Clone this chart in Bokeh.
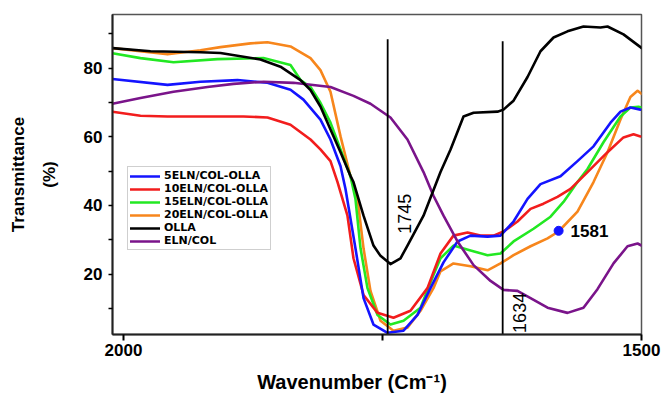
import math
from bokeh.plotting import figure
from bokeh.models import Range1d, FixedTicker, Legend, LegendItem, Label
from bokeh.embed import file_html
from bokeh.resources import INLINE

# ---------------- data ----------------
olla_x = [2010.6, 1973.9, 1925.7, 1906.4, 1867.8, 1848.5, 1829.1, 1819.5, 1809.9, 1800.2,
          1790.5, 1780.9, 1778.0, 1768.3, 1758.7, 1751.9, 1742.3, 1732.6, 1725.9, 1710.4,
          1694.0, 1684.3, 1671.8, 1662.1, 1639.0, 1633.2, 1623.5, 1610.0, 1597.5, 1584.9,
          1571.4, 1556.0, 1539.6, 1532.8, 1517.4, 1501.0, 1500.0]
olla_y = [85.8, 84.9, 84.6, 84.4, 82.5, 80.4, 76.5, 73.6, 68.8, 62.1,
          55.5, 48.6, 46.8, 37.0, 28.3, 25.3, 22.9, 24.6, 28.3, 37.0,
          49.7, 56.3, 65.9, 67.0, 67.3, 67.9, 70.5, 77.4, 84.9, 88.9,
          90.7, 92.1, 91.8, 92.1, 89.8, 86.1, 85.8]

s20_x = [2010.6, 1957.5, 1925.7, 1906.4, 1877.4, 1861.0, 1838.8, 1819.5, 1809.9, 1800.2,
         1790.5, 1780.9, 1774.1, 1768.3, 1761.6, 1751.9, 1739.4, 1725.9, 1713.3, 1700.8,
         1694.0, 1681.5, 1665.0, 1648.6, 1636.1, 1623.5, 1607.1, 1590.7, 1580.1, 1561.8,
         1546.3, 1532.8, 1520.3, 1510.7, 1503.8, 1500.0]
s20_y = [85.8, 84.0, 85.2, 86.1, 87.2, 87.5, 86.3, 82.9, 79.4, 73.1,
         60.1, 48.5, 41.9, 27.5, 15.1, 6.4, 3.5, 4.4, 9.3, 15.9,
         20.8, 23.1, 22.3, 21.1, 23.1, 25.5, 28.1, 30.4, 32.4, 38.2,
         46.8, 55.5, 65.0, 71.6, 73.4, 72.5]

s15_x = [2010.6, 1983.6, 1951.7, 1909.3, 1864.9, 1838.8, 1829.1, 1819.5, 1809.9, 1800.2,
         1790.5, 1780.9, 1776.1, 1771.2, 1764.5, 1754.8, 1742.3, 1729.7, 1713.3, 1700.8,
         1694.0, 1681.5, 1665.0, 1648.6, 1636.1, 1623.5, 1604.2, 1587.8, 1575.3, 1561.8,
         1552.1, 1536.7, 1520.3, 1510.7, 1502.9, 1500.0]
s15_y = [84.3, 82.9, 81.7, 82.6, 82.9, 80.9, 76.5, 74.5, 69.9, 64.1,
         56.3, 48.5, 41.9, 27.5, 15.9, 8.1, 5.3, 6.4, 10.2, 19.7,
         24.6, 28.3, 26.9, 25.5, 26.0, 29.5, 33.2, 36.7, 41.0, 46.8,
         50.6, 58.4, 65.9, 68.5, 68.7, 68.5]

s5_x = [2010.6, 1957.5, 1925.7, 1890.0, 1861.0, 1838.8, 1826.3, 1809.9, 1800.2, 1790.5,
        1785.7, 1776.1, 1768.3, 1758.7, 1745.2, 1729.7, 1716.2, 1703.7, 1691.1, 1677.6,
        1665.0, 1648.6, 1636.1, 1623.5, 1610.0, 1597.5, 1578.2, 1561.8, 1546.3, 1529.9,
        1520.3, 1510.7, 1501.0]
s5_y = [76.8, 75.1, 76.0, 76.5, 75.7, 73.7, 70.8, 65.0, 59.2, 51.4,
        44.8, 27.5, 13.0, 5.3, 2.9, 3.5, 8.1, 15.9, 23.4, 29.5,
        31.2, 30.9, 31.2, 35.3, 41.9, 46.2, 48.5, 52.9, 57.2, 64.1,
        67.3, 68.5, 67.9]

s10_x = [2010.6, 1983.6, 1957.5, 1918.9, 1884.2, 1861.0, 1838.8, 1819.5, 1809.9, 1800.2,
         1793.4, 1783.8, 1778.0, 1768.3, 1754.8, 1739.4, 1723.0, 1706.6, 1694.0, 1681.5,
         1667.9, 1655.4, 1642.8, 1633.2, 1619.7, 1607.1, 1594.6, 1581.1, 1568.5, 1552.1,
         1532.8, 1517.4, 1507.7, 1501.0]
s10_y = [67.3, 66.1, 65.9, 65.9, 65.9, 65.6, 63.5, 59.2, 56.3, 52.9,
         46.8, 37.0, 24.6, 13.9, 8.7, 7.3, 9.3, 15.9, 26.0, 31.2,
         32.1, 31.2, 31.2, 32.4, 35.3, 39.0, 40.5, 42.5, 44.8, 49.7,
         55.5, 59.8, 60.7, 60.1]

elncol_x = [2010.6, 1983.6, 1951.7, 1918.9, 1893.8, 1864.9, 1835.9, 1800.2, 1778.0, 1761.6,
            1742.3, 1725.9, 1710.4, 1700.8, 1691.1, 1677.6, 1662.1, 1645.7, 1633.2, 1619.7,
            1607.1, 1590.7, 1571.4, 1556.0, 1542.5, 1527.0, 1513.5, 1503.8, 1500.0]
elncol_y = [69.6, 71.3, 73.1, 74.5, 75.4, 76.0, 75.7, 74.5, 71.9, 69.6,
            65.6, 59.2, 49.7, 42.8, 37.0, 29.5, 22.6, 18.0, 15.4, 15.1,
            13.0, 10.2, 8.7, 10.2, 15.6, 23.1, 28.1, 28.9, 28.3]

series_names = ["5ELN/COL-OLLA", "10ELN/COL-OLLA", "15ELN/COL-OLLA", "20ELN/COL-OLLA", "OLLA", "ELN/COL"]
series_colors = ["#1414ff", "#f21d1d", "#22e822", "#f7861c", "#000000", "#7a148a"]

marker_lines_x = [1745, 1634]
marker_lines_top = [88.4, 87.8]
marker_lines_bottom = [2.4, 2.4]
marker_labels = ["1745", "1634"]
marker_label_x = [1729.0, 1617.5]
marker_label_y = [37.6, 8.7]

peak_x = [1580]
peak_y = [32.6]
peak_label = "1581"

x_ticks = [2000, 1750, 1500]
y_ticks = [10, 20, 30, 40, 50, 60, 70, 80, 90]

# ---------------- figure ----------------
FONT = "Liberation Sans"

p = figure(width=662, height=395, output_backend="svg", toolbar_location=None,
           x_range=Range1d(2010.6, 1500), y_range=Range1d(2.4, 95.6),
           min_border_left=112, min_border_right=21, min_border_top=14, min_border_bottom=58)
p.background_fill_color = "white"
p.border_fill_color = "white"
p.grid.visible = False
p.outline_line_color = "#555555"
p.outline_line_width = 1.5

xs_all = [s5_x, s10_x, s15_x, s20_x, olla_x, elncol_x]
ys_all = [s5_y, s10_y, s15_y, s20_y, olla_y, elncol_y]

renderers = {}
draw_order = [3, 2, 1, 0, 5, 4]
for i in draw_order:
    r = p.line(xs_all[i], ys_all[i], line_color=series_colors[i], line_width=2.6,
               line_join="round", line_cap="round")
    renderers[i] = r

# vertical marker lines
p.segment(x0=marker_lines_x, y0=marker_lines_bottom, x1=marker_lines_x, y1=marker_lines_top,
          line_color="black", line_width=1.8)

for t, lx, ly in zip(marker_labels, marker_label_x, marker_label_y):
    p.add_layout(Label(x=lx, y=ly, text=t, angle=math.pi / 2, text_align="center",
                       text_baseline="middle", text_font=FONT, text_font_size="18px",
                       text_color="black"))

# 1581 peak marker
p.scatter(peak_x, peak_y, size=9, color="#1414ff")
p.add_layout(Label(x=1568.5, y=peak_y[0], text=peak_label, text_align="left", text_baseline="middle",
                   text_font=FONT, text_font_size="17px", text_font_style="bold", text_color="black"))

# axes
xa = p.xaxis[0]
xa.ticker = FixedTicker(ticks=x_ticks)
xa.major_label_overrides = {1750: ""}
xa.minor_tick_line_color = None
xa.major_tick_in = 0
xa.major_tick_out = 6
xa.axis_line_width = 2
xa.major_tick_line_width = 2
xa.axis_line_color = "#222222"
xa.major_label_text_font = FONT
xa.major_label_text_font_style = "bold"
xa.major_label_text_font_size = "17px"
xa.major_label_text_color = "black"
xa.major_label_standoff = 3
# trailing no-break spaces shift the centred label a little left, as in the reference
xa.axis_label = "Wavenumber (Cm\u207b\u00b9)" + "\u00a0" * 9
xa.axis_label_text_font = FONT
xa.axis_label_text_font_style = "bold"
xa.axis_label_text_font_size = "20px"
xa.axis_label_text_color = "black"
xa.axis_label_standoff = 12

ya = p.yaxis[0]
ya.ticker = FixedTicker(ticks=y_ticks)
ya.major_label_overrides = {10: "", 30: "", 50: "", 70: "", 90: ""}
ya.minor_tick_line_color = None
ya.major_tick_in = 0
ya.major_tick_out = 4
ya.axis_line_width = 2
ya.major_tick_line_width = 1.5
ya.axis_line_color = "#222222"
ya.major_label_text_font = FONT
ya.major_label_text_font_style = "bold"
ya.major_label_text_font_size = "17px"
ya.major_label_text_color = "black"
ya.major_label_standoff = 6
ya.axis_label = "Transmittance\n(%)"
ya.axis_label_text_font = FONT
ya.axis_label_text_font_style = "bold"
ya.axis_label_text_font_size = "17px"
ya.axis_label_text_color = "black"
ya.axis_label_text_line_height = 1.6
ya.axis_label_standoff = 22

legend = Legend(items=[LegendItem(label=series_names[i], renderers=[renderers[i]]) for i in range(6)],
                location=(15, 84), orientation="vertical")
legend.label_text_font = "DejaVu Sans"
legend.label_text_font_style = "bold"
legend.label_text_font_size = "11px"
legend.label_text_color = "black"
legend.glyph_width = 30
legend.glyph_height = 12
legend.label_height = 12
legend.label_standoff = 4
legend.padding = 2
legend.spacing = 0
legend.margin = 0
legend.border_line_color = "#a0a0a0"
legend.border_line_width = 1
legend.background_fill_color = "white"
legend.background_fill_alpha = 1
p.add_layout(legend)

open("out.html", "w").write(file_html(p, INLINE))
